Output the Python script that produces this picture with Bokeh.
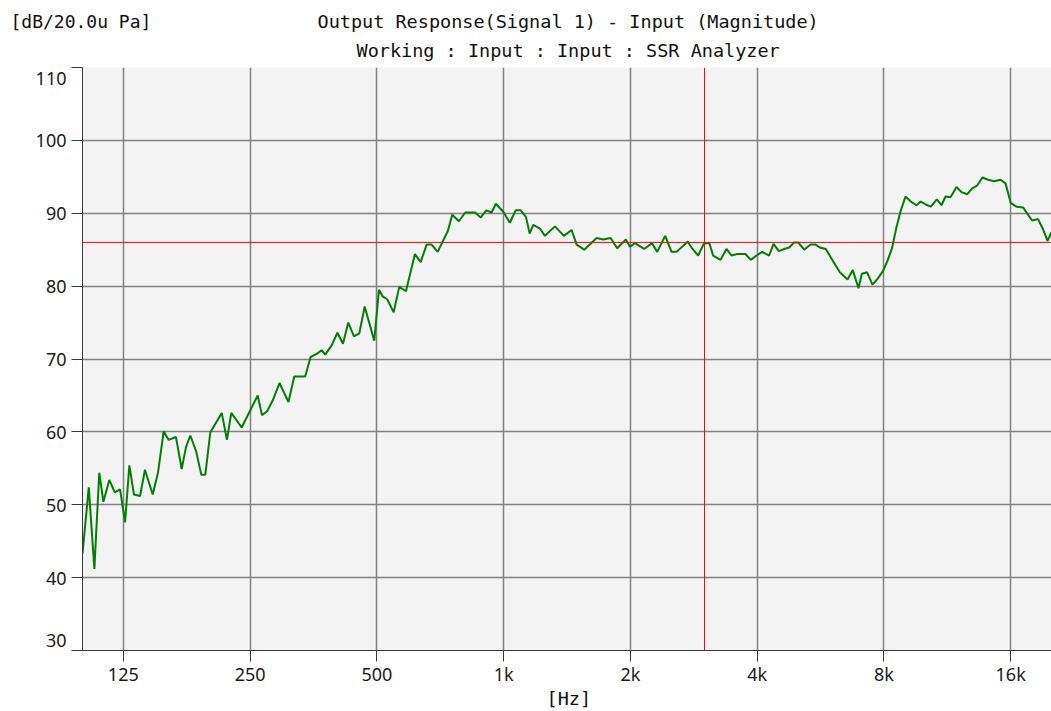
from bokeh.plotting import figure
from bokeh.models import FixedTicker, Span, Label, Range1d
from bokeh.embed import file_html
from bokeh.resources import INLINE

# ---------------- data ----------------
freq_hz = [
    100, 103.5, 106.7, 109.6, 112.1, 115.8, 119.3, 122.8, 126.2, 129.2,
    132.5, 137.0, 140.7, 146.8, 151.1, 155.9, 160.2, 166.7, 172.0, 176.1,
    180.3, 186.0, 191.5, 195.7, 201.1, 214.1, 220.3, 225.6, 238.8, 260.6,
    266.8, 274.2, 282.9, 293.6, 308.4, 318.3, 337.9, 348.2, 359.8, 369.8,
    377.1, 390.8, 403.1, 415.5, 427.7, 441.2, 454.2, 467.8, 492.9, 505.8,
    516.1, 529.2, 548.1, 565.1, 586.2, 615.8, 635.3, 656.5, 674.7, 697.2,
    737.6, 755.1, 783.2, 810.7, 856.2, 881.9, 909.3, 936.5, 958.8, 997.8,
    1035, 1068, 1098, 1130, 1153, 1176, 1220, 1253, 1324, 1391,
    1450, 1491, 1554, 1663, 1724, 1795, 1861, 1951, 1995, 2050,
    2157, 2250, 2316, 2419, 2505, 2575, 2734, 2810, 2897, 2993,
    3080, 3144, 3274, 3383, 3477, 3585, 3753, 3864, 3987, 4111,
    4271, 4375, 4504, 4636, 4765, 4897, 5005, 5172, 5356, 5504,
    5635, 5823, 6060, 6286, 6556, 6748, 6962, 7089, 7297, 7516,
    7724, 7965, 8159, 8353, 8571, 8775, 9002, 9267, 9561, 9788,
    10059, 10338, 10683, 10961, 11203, 11513, 11898, 12227, 12607, 12957,
    13315, 13714, 14141, 14612, 15132, 15551, 16009, 16515, 17122, 17539,
    17986, 18585, 19100, 19565, 20000,
]
level_db = [
    43.3, 52.4, 41.2, 54.4, 50.4, 53.4, 51.7, 52.1, 47.6, 55.4,
    51.4, 51.2, 54.8, 51.4, 54.4, 60.1, 58.9, 59.3, 54.9, 57.9,
    59.5, 57.4, 54.1, 54.1, 59.9, 62.6, 58.9, 62.6, 60.6, 65.0,
    62.3, 62.8, 64.3, 66.7, 64.1, 67.6, 67.6, 70.3, 70.7, 71.2,
    70.6, 71.9, 73.6, 72.1, 75.0, 73.1, 73.5, 77.2, 72.5, 79.5,
    78.6, 78.2, 76.4, 79.9, 79.3, 84.4, 83.3, 85.7, 85.7, 84.7,
    87.6, 89.8, 88.9, 90.1, 90.1, 89.4, 90.4, 90.1, 91.3, 90.2,
    88.7, 90.4, 90.4, 89.5, 87.2, 88.4, 87.9, 86.9, 88.2, 86.9,
    87.7, 85.7, 85.0, 86.6, 86.4, 86.6, 85.2, 86.4, 85.4, 85.9,
    85.1, 85.9, 84.7, 86.9, 84.7, 84.7, 86.1, 85.1, 84.2, 85.9,
    85.9, 84.2, 83.6, 85.1, 84.2, 84.4, 84.4, 83.6, 84.2, 84.7,
    84.2, 85.8, 84.8, 85.1, 85.3, 86.0, 86.0, 85.0, 85.7, 85.7,
    85.3, 85.1, 83.4, 81.9, 80.9, 82.2, 79.7, 81.7, 81.9, 80.2,
    81.0, 82.1, 83.5, 85.1, 88.1, 90.4, 92.3, 91.6, 91.1, 91.6,
    91.2, 90.9, 91.9, 91.1, 92.3, 92.2, 93.6, 92.9, 92.6, 93.4,
    93.8, 94.9, 94.6, 94.4, 94.6, 94.1, 91.4, 90.9, 90.8, 89.9,
    89.0, 89.2, 87.8, 86.2, 87.4,
]
x_ticks = [125, 250, 500, 1000, 2000, 4000, 8000, 16000]
x_tick_labels = ["125", "250", "500", "1k", "2k", "4k", "8k", "16k"]
y_ticks = [30, 40, 50, 60, 70, 80, 90, 100, 110]
# the end labels sit inside the frame in the original (30 above its tick, 110 below)
y_tick_labels = ["30\n", "40", "50", "60", "70", "80", "90", "100", "\n110"]
y_grid = [40, 50, 60, 70, 80, 90, 100]
cursor_freq = 3000
cursor_level = 86.0

title_1 = "Output Response(Signal 1) - Input (Magnitude)"
title_2 = "Working : Input : Input : SSR Analyzer"
y_unit = "[dB/20.0u Pa]"
x_unit = "[Hz]"

# ---------------- figure ----------------
W, H = 1051, 711
BL, BT, BB = 82, 67, 61

p = figure(width=W, height=H, x_axis_type="log",
           x_range=Range1d(100, 20000), y_range=Range1d(30, 110),
           output_backend="svg", toolbar_location=None,
           min_border_left=BL, min_border_top=BT, min_border_bottom=BB,
           min_border_right=0)
p.title.visible = False
p.outline_line_color = None
p.background_fill_color = "#f3f3f3"
p.border_fill_color = "white"

AX = "#3a3a3a"
TICK_FONT = "Noto Sans"

for ax in (p.xaxis[0], p.yaxis[0]):
    ax.axis_line_color = AX
    ax.major_tick_line_color = AX
    ax.major_tick_out = 11
    ax.major_tick_in = 0
    ax.minor_tick_line_color = None
    ax.major_label_text_font = TICK_FONT
    ax.major_label_text_font_size = "18px"
    ax.major_label_text_color = "#1a1a1a"

xa = p.xaxis[0]
xa.ticker = FixedTicker(ticks=x_ticks)
xa.major_label_overrides = {t: s for t, s in zip(x_ticks, x_tick_labels)}
xa.major_label_standoff = 0

ya = p.yaxis[0]
ya.ticker = FixedTicker(ticks=y_ticks)
ya.major_label_overrides = {t: s for t, s in zip(y_ticks, y_tick_labels)}
ya.major_label_standoff = 5
ya.major_label_text_line_height = 0.9

p.xgrid.ticker = FixedTicker(ticks=x_ticks)
p.ygrid.ticker = FixedTicker(ticks=y_grid)
for g in (p.xgrid[0], p.ygrid[0]):
    g.grid_line_color = "#808080"
    g.grid_line_width = 1.5

p.line(freq_hz, level_db, line_color="#008000", line_width=2)

p.add_layout(Span(location=cursor_level, dimension="width", line_color="#ff0000", line_width=1))
p.add_layout(Span(location=cursor_freq, dimension="height", line_color="#ff0000", line_width=1))

MONO = "DejaVu Sans Mono"
def side_label(text, x, y, place, size="18.5px"):
    p.add_layout(Label(text=text, x=x, y=y, x_units="screen", y_units="screen",
                       text_align="left", text_baseline="alphabetic",
                       text_line_height=1.0,
                       text_font=MONO, text_font_size=size, text_color="#111111"), place)

# first added sits nearest the frame
side_label(title_2, 274, 17.5, "above")
side_label(title_1, 235, 25.5, "above")
side_label(y_unit, -72, 4.5, "above", "18px")
side_label(x_unit, 464, 11, "below")

open("out.html", "w").write(file_html(p, INLINE))
